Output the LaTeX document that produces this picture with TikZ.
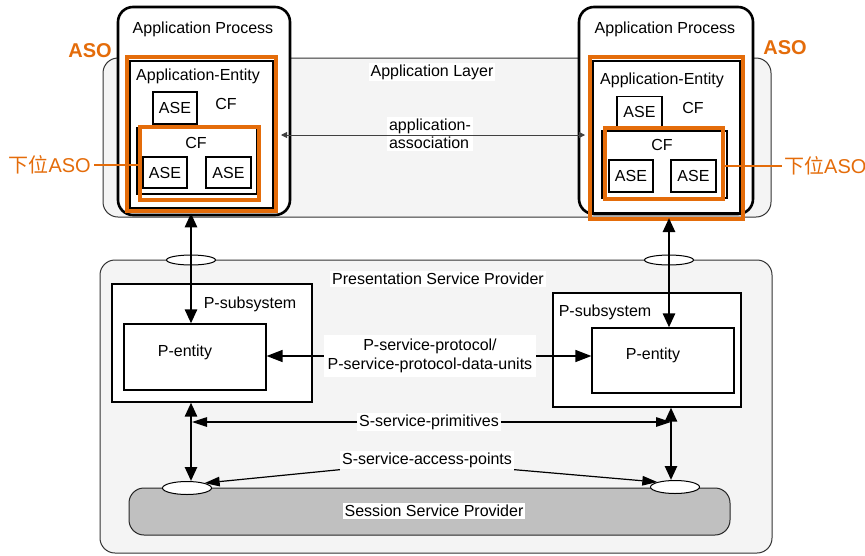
\documentclass[tikz,border=0pt]{standalone}
\usepackage{fontspec}
\setmainfont{Liberation Sans}
\newfontfamily\cjk{Noto Sans CJK SC}
\usetikzlibrary{arrows.meta,fit,shapes.geometric}
\definecolor{aso}{HTML}{E46C0A}
\definecolor{layerbg}{HTML}{F4F4F4}
\definecolor{sessbg}{HTML}{C0C0C0}
\begin{document}
\begin{tikzpicture}[x=1pt,y=-1pt,
  font=\fontsize{16}{18.5}\selectfont,
  layer/.style={draw=black!80, fill=layerbg, rounded corners=15pt, line width=1pt, inner sep=0pt},
  apbox/.style={draw, fill=white, rounded corners=15pt, line width=2.6pt, inner sep=0pt},
  thinbox/.style={draw, fill=white, line width=1.2pt, inner sep=0pt},
  plainbox/.style={draw, line width=1.2pt, inner sep=0pt},
  asobox/.style={draw=aso, line width=4pt, inner sep=0pt},
  sessbox/.style={draw=black!85, fill=sessbg, rounded corners=15pt, line width=1pt, inner sep=0pt},
  lbl/.style={fill=white, inner sep=2pt},
  asolbl/.style={text=aso, font=\fontsize{20}{24}\selectfont, inner sep=0pt},
  port/.style={draw, fill=white, ellipse, minimum width=49pt, minimum height=10pt, inner sep=0pt, line width=1pt},
  bigarrow/.style={line width=2.6pt, {Triangle[length=14pt,width=12pt]}-{Triangle[length=14pt,width=12pt]}},
  medarrow/.style={line width=1.4pt, -{Triangle[length=16pt,width=12pt]}},
  sarrow/.style={line width=1.2pt, -{Triangle[length=15pt,width=9.5pt]}},
  assocarrow/.style={line width=0.9pt, draw=black!75, {Triangle[length=6pt,width=6pt]}-{Triangle[length=6pt,width=6pt]}}
]
\useasboundingbox (0,0) rectangle (865,555);

% layers
\node[layer, fit={(103,58) (771,217)}] (al) {};
\node[layer, fit={(100,260) (772,553)}] (psp) {};
\node[lbl] (altxt) at (432,72) {Application Layer};

% application processes
\node[apbox, fit={(118,7) (290,215)}] (apL) {};
\node[apbox, fit={(579,7) (753,214)}] (apR) {};
\node (apLt) at (203,29) {Application Process};
\node (apRt) at (665,29) {Application Process};

% application entities (left)
\node[plainbox, fit={(130,61) (273,208)}] (aeL) {};
\node (aeLt) at (198,76) {Application-Entity};
\node[thinbox, minimum width=44pt, minimum height=32pt] (aseL0) at (175,108) {ASE};
\node (cfL0) at (226,104) {CF};
\node[plainbox, fit={(137,128) (257,194)}] (cfbL) {};
\node (cfL1) at (196,143) {CF};
\node[thinbox, minimum width=44pt, minimum height=31pt] (aseL1) at (165,172.5) {ASE};
\node[thinbox, minimum width=45pt, minimum height=31pt] (aseL2) at (228.5,172.5) {ASE};

% application entities (right)
\node[plainbox, fit={(593,61) (740,213)}] (aeR) {};
\node (aeRt) at (662,80) {Application-Entity};
\node[thinbox, minimum width=45pt, minimum height=31pt] (aseR0) at (639.5,112) {ASE};
\node (cfR0) at (693,108) {CF};
\node[plainbox, fit={(602,131) (727,198)}] (cfbR) {};
\node (cfR1) at (662,145) {CF};
\node[thinbox, minimum width=44pt, minimum height=32pt] (aseR1) at (631,176) {ASE};
\node[thinbox, minimum width=45pt, minimum height=32pt] (aseR2) at (693.5,176) {ASE};

% ASO highlights
\node[asobox, fit={(127,57) (276,211)}] (asoL) {};
\node[asobox, fit={(140,127) (259,200)}] (subL) {};
\node[asobox, fit={(590,57) (743,219)}] (asoR) {};
\node[asobox, fit={(605,128) (723,199)}] (subR) {};
\node[asolbl, font=\fontsize{20}{24}\selectfont\bfseries] (asoLt) at (90,51) {ASO};
\node[asolbl, font=\fontsize{20}{24}\selectfont\bfseries] (asoRt) at (785,48) {ASO};
\node[asolbl, anchor=east] (subLt) at (91,165) {{\cjk 下位}ASO};
\node[asolbl, anchor=west] (subRt) at (784,166) {{\cjk 下位}ASO};
\draw[aso, line width=1.5pt] (subLt.east) ++(3,0) -- (subL.west |- subLt.east);
\draw[aso, line width=1.5pt] (subR.east |- subRt.west) -- ([xshift=-2pt]subRt.west);

% application association
\node[lbl, align=left] (assoc) at (430,134) {application-\\association};
\draw[assocarrow] ([xshift=3pt]asoL.east |- 0,135) -- ([xshift=-3pt]asoR.west |- 0,135);

% presentation service provider
\node[lbl] (psptxt) at (438,279) {Presentation Service Provider};
\node[sessbox, fit={(129,488) (730,535)}] (ssp) {};
\node[lbl] (ssptxt) at (434,511) {Session Service Provider};
\node[port] (portL) at (191,260) {};
\node[port] (portR) at (669,260) {};
\node[port, minimum height=13pt] (sapL) at (187,488) {};
\node[port, minimum height=13pt] (sapR) at (675,487) {};

\node[thinbox, fit={(112,284) (312,402)}] (psL) {};
\node (psLt) at (250,304) {P-subsystem};
\node[thinbox, fit={(124,324) (266,390)}] (peL) {};
\node (peLt) at (185,352) {P-entity};
\node[thinbox, fit={(553,293) (741,407)}] (psR) {};
\node (psRt) at (605,312) {P-subsystem};
\node[thinbox, fit={(592,328) (734,393)}] (peR) {};
\node (peRt) at (653,355) {P-entity};

% vertical arrows
\draw[bigarrow] ([yshift=3pt]apL.south -| portL) -- (peL.north -| portL);
\draw[bigarrow] ([yshift=3pt]asoR.south -| portR) -- (peR.north -| portR);
\draw[bigarrow] (psL.south -| portL) -- (sapL.north -| portL);
\draw[bigarrow] ([xshift=2pt]psR.south -| portR) -- ([xshift=2pt]sapR.north -| portR);

% P-service protocol
\node[lbl, align=center, inner sep=4pt] (pspt) at (430,356) {P-service-protocol/\\P-service-protocol-data-units};
\draw[medarrow] (pspt.west) -- (peL.east |- pspt.west);
\draw[medarrow] (pspt.east) -- (peR.west |- pspt.east);

% S-service
\node[lbl] (sprim) at (429,422) {S-service-primitives};
\draw[sarrow] (sprim.west) -- ([xshift=1pt]sprim.west -| portL);
\draw[sarrow] (sprim.east) -- ([xshift=2pt]sprim.east -| portR);
\node[lbl] (sacc) at (427,460) {S-service-access-points};
\draw[sarrow] (sacc.south west) -- (sapL.north east);
\draw[sarrow] (sacc.south east) -- (sapR.north west);
\end{tikzpicture}
\end{document}
